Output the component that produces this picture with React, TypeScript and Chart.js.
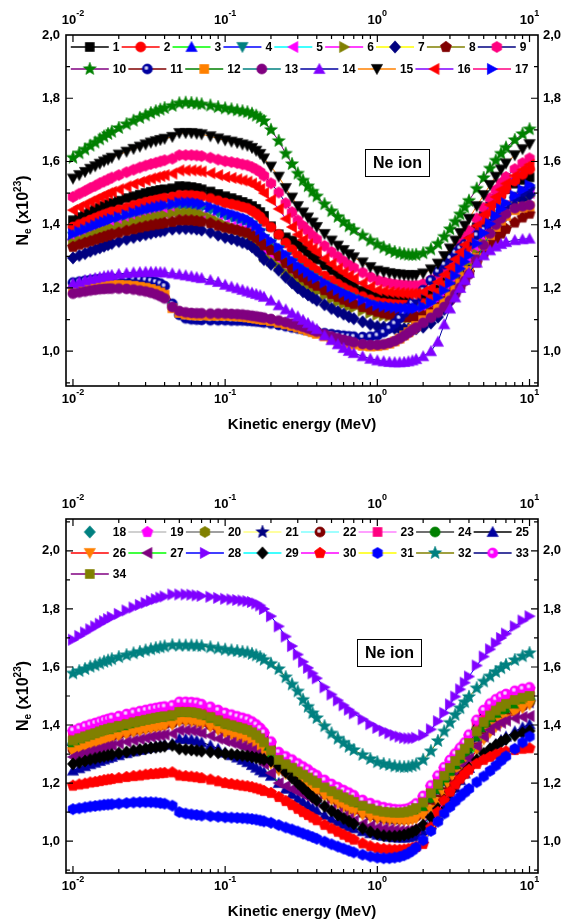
import React, { useEffect, useRef } from 'react';
import { Chart, registerables } from 'chart.js';

Chart.register(...registerables);

const FONT = "'Liberation Sans', Arial, Helvetica, sans-serif";

// Kinetic energy grid (MeV)
const ENERGY = [0.010,0.011,0.012,0.013,0.014,0.015,0.016,0.017,0.018,0.020,0.0225,0.025,0.0275,0.030,0.0325,0.035,0.0375,0.040,0.045,0.050,0.055,0.060,0.065,0.070,0.080,0.090,0.100,0.110,0.120,0.130,0.140,0.150,0.160,0.170,0.180,0.200,0.225,0.250,0.275,0.300,0.325,0.350,0.375,0.400,0.450,0.500,0.550,0.600,0.650,0.700,0.800,0.900,1.000,1.100,1.200,1.300,1.400,1.500,1.600,1.700,1.800,2.000,2.250,2.500,2.750,3.000,3.250,3.500,3.750,4.000,4.500,5.000,5.500,6.000,6.500,7.000,8.000,9.000,10.000];

// ---- upper panel series (Ne x10^23) ----
const S1 = [1.414,1.424,1.433,1.441,1.448,1.454,1.460,1.465,1.469,1.476,1.484,1.490,1.495,1.500,1.504,1.507,1.510,1.512,1.515,
1.522,1.521,1.519,1.516,1.512,1.505,1.497,1.490,1.484,1.478,1.472,1.466,1.459,1.450,1.440,1.428,
1.395,1.370,1.360,1.350,1.338,1.325,1.313,1.300,1.290,1.272,1.256,1.241,1.228,1.216,1.206,1.192,1.182,1.175,
1.170,1.166,1.163,1.161,1.160,1.159,1.159,
1.160,1.165,1.178,1.196,1.220,1.246,1.273,1.300,1.326,1.350,1.392,1.428,1.458,1.481,1.499,1.513,1.530,1.542,1.550];
const S2 = [1.393,1.401,1.408,1.415,1.421,1.427,1.432,1.436,1.441,1.447,1.454,1.461,1.466,1.471,1.475,1.478,1.481,1.484,1.488,
1.493,1.493,1.493,1.491,1.489,1.483,1.476,1.469,1.465,1.461,1.456,1.452,1.444,1.435,1.425,1.410,
1.392,1.369,1.342,1.321,1.301,1.287,1.275,1.264,1.254,1.238,1.224,1.212,1.201,1.192,1.185,1.173,1.163,1.155,
1.152,1.150,1.148,1.147,1.146,1.145,1.145,
1.146,1.151,1.164,1.184,1.208,1.234,1.259,1.284,1.308,1.331,1.372,1.409,1.441,1.468,1.492,1.512,1.538,1.559,1.575];
const S3 = [1.367,1.375,1.382,1.389,1.395,1.401,1.406,1.410,1.415,1.421,1.428,1.435,1.440,1.445,1.449,1.452,1.455,1.458,1.462,
1.467,1.467,1.467,1.465,1.462,1.454,1.445,1.436,1.431,1.425,1.419,1.414,1.404,1.392,1.379,1.360,
1.344,1.324,1.302,1.283,1.266,1.254,1.244,1.234,1.226,1.212,1.199,1.189,1.180,1.172,1.166,1.156,1.147,1.140,
1.137,1.135,1.133,1.132,1.131,1.130,1.130,
1.131,1.136,1.147,1.164,1.185,1.208,1.231,1.253,1.274,1.294,1.331,1.363,1.391,1.415,1.437,1.455,1.478,1.496,1.510];
const S4 = [1.362,1.370,1.377,1.384,1.389,1.395,1.400,1.404,1.409,1.415,1.422,1.428,1.433,1.438,1.442,1.445,1.448,1.451,1.455,
1.460,1.460,1.460,1.458,1.455,1.447,1.438,1.430,1.424,1.419,1.413,1.408,1.398,1.387,1.374,1.355,
1.339,1.320,1.298,1.279,1.263,1.250,1.240,1.231,1.223,1.209,1.196,1.186,1.177,1.170,1.164,1.154,1.145,1.138,
1.135,1.133,1.131,1.130,1.129,1.128,1.128,
1.129,1.134,1.145,1.162,1.183,1.206,1.228,1.250,1.271,1.291,1.327,1.359,1.387,1.411,1.432,1.450,1.473,1.491,1.505];
const S5 = [1.351,1.359,1.365,1.372,1.377,1.383,1.387,1.392,1.396,1.402,1.408,1.414,1.419,1.424,1.428,1.431,1.434,1.436,1.440,
1.432,1.432,1.432,1.430,1.426,1.419,1.408,1.400,1.394,1.388,1.382,1.376,1.366,1.354,1.340,1.320,
1.306,1.289,1.270,1.254,1.239,1.228,1.220,1.211,1.204,1.192,1.181,1.172,1.165,1.158,1.152,1.144,1.136,1.130,
1.127,1.125,1.123,1.122,1.121,1.120,1.120,
1.121,1.126,1.137,1.154,1.175,1.198,1.221,1.243,1.264,1.284,1.321,1.353,1.381,1.405,1.427,1.445,1.468,1.486,1.500];
const S6 = [1.345,1.353,1.359,1.366,1.371,1.377,1.382,1.386,1.390,1.397,1.403,1.409,1.414,1.419,1.422,1.426,1.428,1.431,1.435,
1.440,1.440,1.440,1.437,1.433,1.423,1.411,1.399,1.392,1.385,1.377,1.370,1.357,1.342,1.325,1.300,
1.287,1.270,1.251,1.235,1.221,1.211,1.202,1.194,1.187,1.175,1.165,1.156,1.149,1.142,1.137,1.128,1.121,1.115,
1.112,1.110,1.108,1.107,1.106,1.105,1.105,
1.106,1.111,1.122,1.140,1.161,1.184,1.207,1.230,1.251,1.271,1.308,1.341,1.370,1.394,1.416,1.434,1.457,1.475,1.490];
const S7 = [1.295,1.303,1.309,1.316,1.322,1.327,1.332,1.337,1.341,1.347,1.354,1.360,1.365,1.369,1.373,1.377,1.379,1.382,1.386,
1.388,1.388,1.388,1.386,1.383,1.376,1.367,1.360,1.355,1.350,1.344,1.339,1.330,1.319,1.308,1.290,
1.275,1.256,1.234,1.216,1.200,1.188,1.178,1.169,1.161,1.147,1.135,1.125,1.117,1.109,1.103,1.093,1.085,1.078,
1.076,1.074,1.072,1.071,1.071,1.070,1.070,
1.071,1.076,1.089,1.108,1.132,1.158,1.183,1.208,1.231,1.254,1.294,1.331,1.362,1.389,1.413,1.433,1.459,1.479,1.495];
const S8 = [1.330,1.337,1.343,1.348,1.353,1.358,1.362,1.366,1.370,1.375,1.381,1.386,1.391,1.395,1.398,1.401,1.403,1.406,1.409,
1.414,1.414,1.414,1.412,1.410,1.405,1.397,1.391,1.387,1.383,1.378,1.375,1.367,1.359,1.349,1.335,
1.320,1.301,1.279,1.262,1.246,1.234,1.224,1.215,1.207,1.193,1.181,1.172,1.163,1.156,1.150,1.140,1.131,1.125,
1.120,1.116,1.113,1.111,1.109,1.108,1.108,
1.109,1.113,1.123,1.137,1.156,1.175,1.195,1.214,1.232,1.249,1.281,1.308,1.333,1.354,1.372,1.387,1.407,1.423,1.435];
const S9 = [1.488,1.498,1.507,1.516,1.523,1.531,1.537,1.543,1.549,1.557,1.566,1.574,1.581,1.587,1.592,1.596,1.600,1.604,1.609,
1.620,1.620,1.620,1.619,1.617,1.612,1.606,1.601,1.598,1.595,1.591,1.588,1.582,1.575,1.567,1.555,
1.531,1.502,1.468,1.440,1.414,1.396,1.381,1.366,1.354,1.333,1.314,1.299,1.285,1.273,1.264,1.249,1.235,1.225,
1.220,1.215,1.212,1.210,1.209,1.208,1.207,
1.208,1.213,1.225,1.243,1.266,1.290,1.314,1.338,1.360,1.381,1.420,1.454,1.484,1.510,1.532,1.551,1.576,1.595,1.610];
const S10 = [1.612,1.626,1.638,1.650,1.660,1.670,1.679,1.687,1.694,1.706,1.718,1.729,1.738,1.746,1.753,1.759,1.764,1.769,1.776,
1.784,1.786,1.785,1.783,1.781,1.777,1.772,1.768,1.765,1.762,1.759,1.756,1.751,1.745,1.738,1.728,
1.700,1.665,1.625,1.592,1.562,1.540,1.522,1.505,1.490,1.465,1.443,1.425,1.409,1.395,1.384,1.366,1.350,1.338,
1.328,1.320,1.314,1.310,1.307,1.305,1.304,
1.305,1.310,1.322,1.340,1.362,1.386,1.410,1.433,1.455,1.476,1.514,1.548,1.578,1.603,1.625,1.644,1.668,1.687,1.702];
const S11 = [1.217,1.220,1.223,1.225,1.227,1.228,1.229,1.230,1.230,1.231,1.231,1.230,1.228,1.226,1.223,1.219,1.214,1.206,1.150,
1.115,1.104,1.101,1.100,1.099,1.098,1.098,1.098,1.097,1.097,1.097,1.096,1.095,1.094,1.093,1.091,
1.088,1.083,1.079,1.075,1.072,1.069,1.066,1.063,1.061,1.057,1.054,1.051,1.049,1.047,1.046,1.045,1.046,1.050,
1.060,1.073,1.088,1.105,1.122,1.138,1.153,
1.167,1.193,1.224,1.252,1.275,1.295,1.312,1.326,1.338,1.349,1.367,1.384,1.403,1.423,1.443,1.461,1.487,1.505,1.518];
const S12 = [1.194,1.198,1.201,1.204,1.206,1.208,1.209,1.210,1.210,1.210,1.209,1.207,1.204,1.201,1.197,1.192,1.186,1.179,1.136,
1.121,1.116,1.114,1.113,1.113,1.112,1.112,1.112,1.111,1.110,1.109,1.107,1.105,1.103,1.101,1.099,
1.095,1.090,1.085,1.080,1.075,1.070,1.065,1.060,1.055,1.047,1.040,1.034,1.029,1.025,1.021,1.017,1.015,1.016,
1.019,1.024,1.031,1.040,1.050,1.060,1.070,
1.080,1.098,1.117,1.135,1.154,1.174,1.194,1.214,1.234,1.254,1.296,1.334,1.367,1.393,1.413,1.428,1.446,1.454,1.458];
const S13 = [1.182,1.186,1.189,1.192,1.194,1.196,1.197,1.198,1.198,1.198,1.197,1.195,1.192,1.189,1.185,1.180,1.174,1.167,1.140,
1.127,1.123,1.121,1.120,1.120,1.119,1.119,1.119,1.118,1.117,1.116,1.114,1.112,1.110,1.108,1.106,
1.102,1.097,1.092,1.087,1.082,1.077,1.072,1.067,1.062,1.054,1.047,1.041,1.036,1.032,1.028,1.023,1.020,1.020,
1.022,1.026,1.032,1.040,1.049,1.058,1.067,
1.075,1.090,1.106,1.122,1.140,1.160,1.180,1.201,1.222,1.243,1.290,1.335,1.372,1.400,1.420,1.435,1.452,1.458,1.462];
const S14 = [1.214,1.219,1.224,1.228,1.231,1.234,1.237,1.239,1.241,1.244,1.247,1.249,1.250,1.251,1.251,1.251,1.250,1.249,1.246,
1.243,1.240,1.237,1.234,1.231,1.225,1.219,1.210,1.204,1.199,1.194,1.189,1.185,1.181,1.177,1.172,
1.160,1.145,1.132,1.120,1.110,1.099,1.089,1.079,1.070,1.050,1.035,1.022,1.010,1.001,0.994,0.984,0.976,0.971,
0.968,0.966,0.965,0.965,0.966,0.968,0.971,
0.975,0.984,1.000,1.030,1.085,1.135,1.170,1.200,1.225,1.248,1.280,1.303,1.319,1.331,1.339,1.345,1.351,1.354,1.356];
const S15 = [1.546,1.557,1.567,1.577,1.585,1.593,1.600,1.606,1.612,1.622,1.631,1.640,1.647,1.654,1.660,1.664,1.668,1.672,1.678,
1.690,1.690,1.690,1.688,1.686,1.680,1.673,1.667,1.663,1.659,1.654,1.650,1.643,1.634,1.624,1.610,
1.584,1.552,1.516,1.486,1.459,1.439,1.423,1.407,1.393,1.371,1.350,1.334,1.320,1.307,1.297,1.281,1.266,1.255,
1.251,1.247,1.244,1.243,1.241,1.240,1.240,
1.241,1.246,1.259,1.277,1.301,1.325,1.350,1.374,1.397,1.419,1.459,1.494,1.526,1.552,1.575,1.594,1.620,1.639,1.655];
const S16 = [1.446,1.456,1.464,1.473,1.480,1.487,1.493,1.499,1.504,1.512,1.521,1.529,1.535,1.541,1.546,1.550,1.554,1.557,1.562,
1.572,1.572,1.572,1.571,1.568,1.563,1.557,1.551,1.548,1.544,1.540,1.536,1.530,1.522,1.513,1.500,
1.478,1.450,1.419,1.393,1.369,1.352,1.338,1.324,1.313,1.293,1.276,1.261,1.249,1.238,1.229,1.215,1.203,1.193,
1.190,1.187,1.185,1.184,1.183,1.182,1.182,
1.183,1.188,1.200,1.219,1.242,1.266,1.291,1.314,1.337,1.358,1.397,1.432,1.463,1.488,1.511,1.530,1.555,1.574,1.590];
const S17 = [1.370,1.378,1.385,1.392,1.398,1.404,1.409,1.413,1.418,1.424,1.431,1.438,1.443,1.448,1.452,1.455,1.458,1.461,1.465,
1.470,1.470,1.470,1.468,1.465,1.457,1.448,1.440,1.434,1.429,1.423,1.418,1.408,1.397,1.384,1.365,
1.349,1.329,1.307,1.288,1.271,1.259,1.249,1.239,1.231,1.217,1.204,1.194,1.185,1.177,1.171,1.161,1.152,1.145,
1.142,1.140,1.138,1.137,1.136,1.135,1.135,
1.136,1.141,1.153,1.170,1.192,1.215,1.239,1.261,1.283,1.303,1.341,1.374,1.403,1.428,1.450,1.468,1.492,1.510,1.525];

// ---- lower panel series ----
const S18 = [1.337,1.344,1.351,1.357,1.362,1.368,1.373,1.377,1.381,1.387,1.393,1.399,1.404,1.408,1.412,1.415,1.418,1.420,1.424,
1.435,1.435,1.434,1.431,1.426,1.417,1.406,1.395,1.389,1.383,1.378,1.373,1.365,1.355,1.344,1.330,
1.302,1.270,1.255,1.243,1.230,1.219,1.209,1.199,1.190,1.175,1.162,1.151,1.141,1.133,1.125,1.112,1.102,1.095,
1.091,1.089,1.088,1.088,1.089,1.092,1.097,
1.104,1.123,1.155,1.186,1.215,1.242,1.266,1.287,1.308,1.328,1.368,1.400,1.423,1.440,1.453,1.463,1.476,1.484,1.490];
const S19 = [1.376,1.383,1.390,1.396,1.401,1.406,1.411,1.415,1.419,1.425,1.432,1.437,1.442,1.446,1.450,1.453,1.456,1.458,1.462,
1.474,1.474,1.473,1.471,1.466,1.457,1.446,1.436,1.430,1.424,1.419,1.414,1.406,1.396,1.384,1.369,
1.337,1.301,1.286,1.275,1.262,1.251,1.241,1.229,1.221,1.205,1.191,1.180,1.170,1.161,1.152,1.136,1.125,1.117,
1.111,1.107,1.104,1.103,1.104,1.107,1.114,
1.124,1.150,1.186,1.220,1.249,1.274,1.296,1.316,1.334,1.361,1.412,1.446,1.468,1.483,1.493,1.501,1.512,1.519,1.524];
const S20 = [1.351,1.358,1.365,1.371,1.376,1.382,1.387,1.391,1.395,1.401,1.407,1.413,1.418,1.422,1.426,1.429,1.432,1.434,1.438,
1.449,1.449,1.448,1.445,1.440,1.431,1.420,1.409,1.403,1.397,1.392,1.387,1.379,1.369,1.358,1.344,
1.316,1.284,1.269,1.257,1.244,1.233,1.223,1.213,1.204,1.189,1.176,1.165,1.155,1.147,1.139,1.126,1.116,1.109,
1.105,1.103,1.102,1.102,1.103,1.106,1.111,
1.118,1.137,1.169,1.200,1.229,1.256,1.280,1.301,1.322,1.342,1.382,1.414,1.437,1.454,1.467,1.477,1.490,1.498,1.504];
const S21 = [1.325,1.332,1.339,1.345,1.350,1.356,1.361,1.365,1.369,1.375,1.381,1.387,1.392,1.396,1.400,1.403,1.406,1.408,1.412,
1.423,1.423,1.422,1.419,1.414,1.405,1.394,1.383,1.377,1.371,1.366,1.361,1.353,1.343,1.332,1.318,
1.290,1.258,1.243,1.231,1.218,1.207,1.197,1.187,1.178,1.163,1.150,1.139,1.129,1.121,1.113,1.100,1.090,1.083,
1.079,1.077,1.076,1.076,1.077,1.080,1.085,
1.092,1.111,1.143,1.174,1.203,1.230,1.254,1.275,1.296,1.316,1.356,1.388,1.411,1.428,1.441,1.451,1.464,1.472,1.478];
const S22 = [1.315,1.323,1.330,1.336,1.342,1.348,1.353,1.357,1.361,1.368,1.374,1.381,1.386,1.390,1.394,1.397,1.400,1.403,1.407,
1.419,1.419,1.418,1.415,1.409,1.400,1.389,1.379,1.373,1.367,1.362,1.357,1.348,1.336,1.321,1.303,
1.274,1.251,1.239,1.228,1.217,1.207,1.197,1.188,1.179,1.163,1.149,1.137,1.126,1.116,1.108,1.098,1.090,1.084,
1.081,1.079,1.078,1.077,1.077,1.078,1.081,
1.085,1.095,1.116,1.142,1.168,1.193,1.216,1.238,1.258,1.278,1.323,1.358,1.382,1.401,1.416,1.428,1.448,1.465,1.478];
const S23 = [1.366,1.373,1.380,1.386,1.391,1.396,1.401,1.405,1.409,1.415,1.422,1.427,1.432,1.436,1.440,1.443,1.446,1.448,1.452,
1.464,1.464,1.463,1.461,1.456,1.447,1.436,1.426,1.420,1.414,1.409,1.404,1.396,1.386,1.374,1.359,
1.327,1.291,1.276,1.265,1.252,1.241,1.231,1.219,1.211,1.195,1.181,1.170,1.160,1.151,1.142,1.126,1.115,1.107,
1.101,1.097,1.094,1.093,1.094,1.097,1.104,
1.114,1.140,1.176,1.210,1.239,1.264,1.286,1.306,1.324,1.351,1.402,1.436,1.458,1.473,1.483,1.491,1.502,1.509,1.514];
const S24 = [1.331,1.338,1.345,1.351,1.356,1.362,1.367,1.371,1.375,1.381,1.387,1.393,1.398,1.402,1.406,1.409,1.412,1.414,1.418,
1.429,1.429,1.428,1.425,1.420,1.411,1.400,1.389,1.383,1.377,1.372,1.367,1.359,1.349,1.338,1.324,
1.296,1.264,1.249,1.237,1.224,1.213,1.203,1.193,1.184,1.169,1.156,1.145,1.135,1.127,1.119,1.106,1.096,1.089,
1.085,1.083,1.082,1.082,1.083,1.086,1.091,
1.098,1.117,1.149,1.180,1.209,1.236,1.260,1.281,1.302,1.322,1.362,1.394,1.417,1.434,1.447,1.457,1.470,1.478,1.484];
const S25 = [1.243,1.251,1.258,1.265,1.270,1.276,1.281,1.286,1.290,1.296,1.303,1.309,1.314,1.319,1.323,1.326,1.329,1.332,1.336,
1.353,1.352,1.350,1.346,1.340,1.330,1.318,1.305,1.296,1.288,1.280,1.272,1.262,1.253,1.244,1.237,
1.225,1.200,1.180,1.162,1.147,1.135,1.124,1.114,1.105,1.090,1.077,1.067,1.058,1.050,1.044,1.034,1.027,1.022,
1.018,1.015,1.013,1.012,1.012,1.013,1.016,
1.020,1.033,1.058,1.088,1.120,1.152,1.183,1.210,1.233,1.252,1.280,1.300,1.318,1.334,1.348,1.360,1.378,1.392,1.402];
const S26 = [1.307,1.315,1.322,1.328,1.334,1.340,1.345,1.349,1.353,1.360,1.366,1.373,1.378,1.382,1.386,1.389,1.392,1.395,1.399,
1.411,1.411,1.410,1.407,1.401,1.392,1.381,1.371,1.365,1.359,1.354,1.349,1.340,1.328,1.313,1.295,
1.266,1.243,1.231,1.220,1.209,1.199,1.189,1.180,1.171,1.155,1.141,1.129,1.118,1.108,1.100,1.090,1.082,1.076,
1.073,1.071,1.070,1.069,1.069,1.070,1.073,
1.077,1.087,1.108,1.134,1.160,1.185,1.208,1.230,1.250,1.270,1.315,1.350,1.374,1.393,1.408,1.420,1.440,1.457,1.470];
const S27 = [1.290,1.297,1.303,1.309,1.313,1.318,1.323,1.327,1.330,1.336,1.342,1.347,1.351,1.355,1.359,1.362,1.364,1.367,1.370,
1.382,1.382,1.381,1.378,1.372,1.363,1.353,1.345,1.339,1.333,1.327,1.321,1.312,1.299,1.284,1.265,
1.235,1.200,1.190,1.180,1.170,1.161,1.152,1.143,1.134,1.119,1.106,1.095,1.085,1.077,1.070,1.060,1.052,1.047,
1.043,1.040,1.038,1.036,1.035,1.036,1.039,
1.044,1.058,1.083,1.112,1.142,1.172,1.202,1.232,1.260,1.285,1.327,1.360,1.383,1.398,1.408,1.415,1.423,1.428,1.431];
const S28 = [1.694,1.707,1.719,1.730,1.740,1.749,1.758,1.765,1.772,1.783,1.795,1.805,1.814,1.821,1.828,1.834,1.839,1.843,1.850,
1.850,1.850,1.849,1.847,1.845,1.842,1.838,1.835,1.833,1.831,1.829,1.827,1.824,1.819,1.812,1.800,
1.775,1.740,1.705,1.672,1.643,1.618,1.597,1.578,1.561,1.530,1.505,1.485,1.468,1.453,1.440,1.420,1.403,1.390,
1.380,1.372,1.365,1.360,1.356,1.354,1.354,
1.356,1.365,1.385,1.413,1.442,1.471,1.498,1.523,1.546,1.567,1.605,1.636,1.661,1.682,1.700,1.715,1.740,1.760,1.775];
const S29 = [1.266,1.271,1.276,1.281,1.285,1.289,1.292,1.295,1.298,1.303,1.307,1.312,1.315,1.318,1.321,1.323,1.325,1.327,1.330,
1.318,1.316,1.314,1.312,1.310,1.307,1.304,1.301,1.299,1.297,1.295,1.293,1.290,1.287,1.284,1.281,
1.276,1.258,1.238,1.218,1.199,1.182,1.166,1.152,1.140,1.120,1.104,1.090,1.078,1.068,1.059,1.044,1.032,1.024,
1.019,1.017,1.017,1.018,1.021,1.025,1.031,
1.038,1.055,1.082,1.112,1.142,1.170,1.195,1.217,1.236,1.252,1.280,1.302,1.318,1.331,1.342,1.351,1.364,1.373,1.380];
const S30 = [1.191,1.195,1.198,1.202,1.204,1.207,1.210,1.212,1.214,1.217,1.221,1.224,1.226,1.229,1.231,1.232,1.234,1.235,1.237,
1.226,1.224,1.222,1.220,1.217,1.212,1.206,1.200,1.197,1.194,1.191,1.189,1.186,1.182,1.178,1.173,
1.166,1.152,1.138,1.124,1.111,1.100,1.090,1.081,1.072,1.056,1.043,1.032,1.022,1.013,1.005,0.992,0.982,0.976,
0.973,0.971,0.970,0.970,0.971,0.973,0.976,
0.980,0.990,1.047,1.100,1.140,1.170,1.195,1.215,1.232,1.246,1.266,1.280,1.290,1.298,1.304,1.309,1.314,1.318,1.320];
const S31 = [1.110,1.113,1.116,1.119,1.121,1.123,1.125,1.126,1.127,1.129,1.131,1.133,1.134,1.134,1.134,1.133,1.131,1.129,1.122,
1.100,1.095,1.092,1.090,1.088,1.086,1.084,1.082,1.081,1.080,1.079,1.078,1.076,1.074,1.071,1.068,
1.063,1.055,1.047,1.040,1.033,1.026,1.020,1.014,1.008,0.998,0.989,0.981,0.974,0.967,0.961,0.953,0.947,0.943,
0.941,0.941,0.943,0.946,0.951,0.958,0.967,
0.978,1.003,1.035,1.067,1.095,1.118,1.137,1.153,1.167,1.180,1.203,1.223,1.242,1.260,1.277,1.292,1.318,1.340,1.360];
const S32 = [1.578,1.586,1.593,1.601,1.606,1.612,1.618,1.622,1.627,1.634,1.641,1.647,1.652,1.657,1.661,1.665,1.668,1.671,1.675,
1.674,1.674,1.674,1.673,1.672,1.668,1.664,1.660,1.657,1.655,1.652,1.650,1.645,1.640,1.634,1.625,
1.611,1.593,1.565,1.540,1.516,1.487,1.463,1.441,1.424,1.396,1.371,1.353,1.339,1.325,1.314,1.297,1.283,1.272,
1.266,1.262,1.258,1.256,1.255,1.256,1.259,
1.264,1.280,1.310,1.345,1.378,1.408,1.435,1.458,1.479,1.497,1.527,1.550,1.568,1.583,1.596,1.607,1.624,1.637,1.648];
const S33 = [1.382,1.389,1.396,1.402,1.407,1.412,1.417,1.421,1.425,1.431,1.438,1.443,1.448,1.452,1.456,1.459,1.462,1.464,1.468,
1.480,1.480,1.479,1.477,1.472,1.463,1.452,1.442,1.436,1.430,1.425,1.420,1.412,1.402,1.390,1.375,
1.343,1.307,1.292,1.281,1.268,1.257,1.247,1.235,1.227,1.211,1.197,1.186,1.176,1.167,1.158,1.142,1.131,1.123,
1.117,1.113,1.110,1.109,1.110,1.113,1.120,
1.130,1.156,1.192,1.226,1.255,1.280,1.302,1.322,1.340,1.367,1.418,1.452,1.474,1.489,1.499,1.507,1.518,1.525,1.530];
const S34 = [1.347,1.354,1.361,1.367,1.372,1.378,1.383,1.387,1.391,1.397,1.403,1.409,1.414,1.418,1.422,1.425,1.428,1.430,1.434,
1.445,1.445,1.444,1.441,1.436,1.427,1.416,1.405,1.399,1.393,1.388,1.383,1.375,1.365,1.354,1.340,
1.312,1.280,1.265,1.253,1.240,1.229,1.219,1.209,1.200,1.185,1.172,1.161,1.151,1.143,1.135,1.122,1.112,1.105,
1.101,1.099,1.098,1.098,1.099,1.102,1.107,
1.114,1.133,1.165,1.196,1.225,1.252,1.276,1.297,1.318,1.338,1.378,1.410,1.433,1.450,1.463,1.473,1.486,1.494,1.500];

const TOP_SERIES = [S1,S2,S3,S4,S5,S6,S7,S8,S9,S10,S11,S12,S13,S14,S15,S16,S17];
const BOTTOM_SERIES = [S18,S19,S20,S21,S22,S23,S24,S25,S26,S27,S28,S29,S30,S31,S32,S33,S34];

const SERIES_NAMES = ['1','2','3','4','5','6','7','8','9','10','11','12','13','14','15','16','17',
  '18','19','20','21','22','23','24','25','26','27','28','29','30','31','32','33','34'];
const MARKER_SHAPES = ['square','circle','triUp','triDown','triLeft','triRight','diamond','pentagon','hexagon','star','sphere'];
const MARKER_COLORS = ['#000000','#FF0000','#0000FF','#008080','#FF00FF','#808000','#000080','#800000','#FF0080','#008000','#0000A0','#FF8000','#800080','#8000FF','#000000','#FF0000','#0000FF',
  '#008080','#FF00FF','#808000','#000080','#800000','#FF0080','#008000','#0000A0','#FF8000','#800080','#8000FF','#000000','#FF0000','#0000FF','#008080','#FF00FF','#808000'];
const LINE_COLORS = ['#000000','#FF0000','#00FF00','#0000FF','#00FFFF','#FF00FF','#FFFF00','#808000','#000080','#800080','#800000','#008000','#008080','#0000A0','#FF8000','#8000FF','#FF0080',
  '#FFFFFF','#C0C0C0','#808080','#FFFF80','#80FFFF','#FF80FF','#404040','#000000','#FF0000','#00FF00','#0000FF','#00FFFF','#FF00FF','#FFFF00','#808000','#000080','#800080'];

const X_MAJOR = [0.01, 0.1, 1, 10];
const X_MAJOR_EXP = ['-2', '-1', '0', '1'];
const X_MINOR = [0.02,0.03,0.04,0.05,0.06,0.07,0.08,0.09,0.2,0.3,0.4,0.5,0.6,0.7,0.8,0.9,2,3,4,5,6,7,8,9];
const Y_MAJOR = [1.0, 1.2, 1.4, 1.6, 1.8, 2.0];
const Y_MINOR = [0.9, 1.1, 1.3, 1.5, 1.7, 1.9, 2.1];
const X_TITLE = 'Kinetic energy (MeV)';
const ANNOTATION = 'Ne ion';

function makeMarker(shape: string, color: string): HTMLCanvasElement {
  const S = 18;
  const c = document.createElement('canvas');
  c.width = S; c.height = S;
  const g = c.getContext('2d') as CanvasRenderingContext2D;
  const cx = S / 2, cy = S / 2;
  g.fillStyle = color; g.strokeStyle = color; g.lineWidth = 0.6;
  g.beginPath();
  const poly = (pts: number[][]) => {
    g.moveTo(cx + pts[0][0], cy + pts[0][1]);
    for (let i = 1; i < pts.length; i++) g.lineTo(cx + pts[i][0], cy + pts[i][1]);
    g.closePath();
  };
  const regular = (n: number, r: number, rot: number) => {
    const pts: number[][] = [];
    for (let i = 0; i < n; i++) { const a = rot + (i * 2 * Math.PI) / n; pts.push([r * Math.cos(a), r * Math.sin(a)]); }
    poly(pts);
  };
  switch (shape) {
    case 'square': g.rect(cx - 4.5, cy - 4.5, 9, 9); break;
    case 'circle': g.arc(cx, cy, 5.1, 0, Math.PI * 2); break;
    case 'triUp': poly([[0, -5.6], [5.6, 4.6], [-5.6, 4.6]]); break;
    case 'triDown': poly([[0, 5.6], [5.6, -4.6], [-5.6, -4.6]]); break;
    case 'triLeft': poly([[-5.6, 0], [4.6, -5.6], [4.6, 5.6]]); break;
    case 'triRight': poly([[5.6, 0], [-4.6, -5.6], [-4.6, 5.6]]); break;
    case 'diamond': poly([[0, -6.2], [5.6, 0], [0, 6.2], [-5.6, 0]]); break;
    case 'pentagon': regular(5, 5.8, -Math.PI / 2); break;
    case 'hexagon': regular(6, 5.6, -Math.PI / 2); break;
    case 'star': {
      const pts: number[][] = [];
      for (let i = 0; i < 10; i++) { const a = -Math.PI / 2 + (i * Math.PI) / 5; const r = i % 2 === 0 ? 6.8 : 2.9; pts.push([r * Math.cos(a), r * Math.sin(a)]); }
      poly(pts); break;
    }
    case 'sphere': g.arc(cx, cy, 5.1, 0, Math.PI * 2); break;
  }
  g.fill(); g.stroke();
  if (shape === 'sphere') {
    const hx = cx - 1, hy = cy - 1;
    const gr = g.createRadialGradient(hx, hy, 0, hx, hy, 2.6);
    gr.addColorStop(0, 'rgba(255,255,255,1)');
    gr.addColorStop(0.5, 'rgba(235,235,255,0.75)');
    gr.addColorStop(1, 'rgba(255,255,255,0)');
    g.fillStyle = gr;
    g.beginPath(); g.arc(hx, hy, 2.6, 0, Math.PI * 2); g.fill();
  }
  return c;
}

function drawPow(ctx: CanvasRenderingContext2D, x: number, y: number, exp: string) {
  ctx.font = `bold 13px ${FONT}`;
  const w1 = ctx.measureText('10').width;
  ctx.font = `bold 9px ${FONT}`;
  const w2 = ctx.measureText(exp).width;
  const x0 = x - (w1 + w2) / 2;
  ctx.textAlign = 'left';
  ctx.textBaseline = 'middle';
  ctx.font = `bold 13px ${FONT}`;
  ctx.fillText('10', x0, y);
  ctx.font = `bold 9px ${FONT}`;
  ctx.fillText(exp, x0 + w1, y - 6);
}

function framePlugin(cfg: any) {
  return {
    id: 'frame',
    afterDraw(chart: any) {
      const ctx: CanvasRenderingContext2D = chart.ctx;
      const { left, right, top, bottom } = chart.chartArea;
      const xs = chart.scales.x, ys = chart.scales.y;
      ctx.save();
      ctx.strokeStyle = '#000'; ctx.fillStyle = '#000';
      ctx.lineWidth = 1.2;
      ctx.beginPath();
      const xt = (vals: number[], len: number) => vals.forEach((v) => {
        const p = xs.getPixelForValue(v);
        if (p < left + 0.5 || p > right - 0.5) return;
        ctx.moveTo(p, bottom); ctx.lineTo(p, bottom - len);
        ctx.moveTo(p, top); ctx.lineTo(p, top + len);
      });
      const yt = (vals: number[], len: number) => vals.forEach((v) => {
        const p = ys.getPixelForValue(v);
        if (p < top + 0.5 || p > bottom - 0.5) return;
        ctx.moveTo(left, p); ctx.lineTo(left + len, p);
        ctx.moveTo(right, p); ctx.lineTo(right - len, p);
      });
      xt(X_MAJOR, 7); xt(X_MINOR, 4); yt(Y_MAJOR, 7); yt(Y_MINOR, 4);
      ctx.stroke();
      ctx.lineWidth = 1.6;
      ctx.strokeRect(left, top, right - left, bottom - top);

      ctx.font = `bold 13px ${FONT}`;
      ctx.textBaseline = 'middle';
      Y_MAJOR.forEach((v) => {
        const p = ys.getPixelForValue(v);
        if (p < top - 1 || p > bottom + 1) return;
        const s = v.toFixed(1).replace('.', ',');
        ctx.textAlign = 'right'; ctx.fillText(s, left - 6, p);
        ctx.textAlign = 'left'; ctx.fillText(s, right + 5, p);
      });
      X_MAJOR.forEach((v, i) => {
        const p = xs.getPixelForValue(v);
        drawPow(ctx, p, bottom + 13, X_MAJOR_EXP[i]);
        drawPow(ctx, p, top - 15, X_MAJOR_EXP[i]);
      });
      ctx.font = `bold 15px ${FONT}`;
      ctx.textAlign = 'center'; ctx.textBaseline = 'middle';
      ctx.fillText(X_TITLE, (left + right) / 2, bottom + 39);

      ctx.save();
      ctx.translate(24, (top + bottom) / 2);
      ctx.rotate(-Math.PI / 2);
      const parts = [
        { t: 'N', f: 16, dy: 0 },
        { t: 'e', f: 10, dy: 4 },
        { t: ' (x10', f: 16, dy: 0 },
        { t: '23', f: 10, dy: -6 },
        { t: ')', f: 16, dy: 0 },
      ];
      let tw = 0;
      parts.forEach((pt) => { ctx.font = `bold ${pt.f}px ${FONT}`; tw += ctx.measureText(pt.t).width; });
      let tx = -tw / 2;
      ctx.textAlign = 'left'; ctx.textBaseline = 'middle';
      parts.forEach((pt) => {
        ctx.font = `bold ${pt.f}px ${FONT}`;
        ctx.fillText(pt.t, tx, pt.dy);
        tx += ctx.measureText(pt.t).width;
      });
      ctx.restore();

      ctx.lineWidth = 1;
      ctx.fillStyle = '#fff';
      ctx.fillRect(cfg.box.x, cfg.box.y, cfg.box.w, cfg.box.h);
      ctx.strokeStyle = '#000';
      ctx.strokeRect(cfg.box.x + 0.5, cfg.box.y + 0.5, cfg.box.w, cfg.box.h);
      ctx.fillStyle = '#000';
      ctx.font = `bold 16px ${FONT}`;
      ctx.textAlign = 'center'; ctx.textBaseline = 'middle';
      ctx.fillText(ANNOTATION, cfg.box.x + cfg.box.w / 2 + 0.5, cfg.box.y + cfg.box.h / 2 + 1);

      ctx.font = `bold 12px ${FONT}`;
      ctx.textAlign = 'left'; ctx.textBaseline = 'middle';
      cfg.legendRows.forEach((row: number[], r: number) => {
        let x0 = 70.8;
        const y = cfg.legendY[r];
        row.forEach((i) => {
          const ds = chart.data.datasets[i];
          ctx.strokeStyle = ds.borderColor;
          ctx.lineWidth = 1.4;
          ctx.beginPath(); ctx.moveTo(x0, y); ctx.lineTo(x0 + 38, y); ctx.stroke();
          const img = ds.pointStyle as HTMLCanvasElement;
          ctx.drawImage(img, x0 + 19 - img.width / 2, y - img.height / 2);
          ctx.fillStyle = '#000';
          ctx.fillText(ds.label, x0 + 42, y + 1);
          x0 = x0 + 42 + ctx.measureText(ds.label).width + 2.2;
        });
      });
      ctx.restore();
    },
  };
}

function buildConfig(cfg: any, markers: HTMLCanvasElement[]) {
  const datasets = cfg.series.map((vals: number[], i: number) => {
    const n = cfg.first + i;
    return {
      label: SERIES_NAMES[n],
      data: ENERGY.map((e, k) => ({ x: e, y: vals[k] })),
      showLine: true,
      borderColor: LINE_COLORS[n],
      borderWidth: 1,
      pointStyle: markers[n],
      pointRadius: 5,
      pointHoverRadius: 5,
      order: cfg.series.length - i,
    };
  });
  return {
    type: 'scatter',
    data: { datasets },
    options: {
      animation: false,
      responsive: false,
      events: [],
      layout: { padding: cfg.padding },
      plugins: { legend: { display: false }, tooltip: { enabled: false } },
      scales: {
        x: { type: 'logarithmic', min: 0.009, max: 11.37, display: false },
        y: { type: 'linear', min: cfg.yMin, max: cfg.yMax, display: false },
      },
    },
    plugins: [framePlugin(cfg)],
  };
}

export default function App() {
  const topRef = useRef<HTMLCanvasElement>(null);
  const botRef = useRef<HTMLCanvasElement>(null);
  useEffect(() => {
    const markers = MARKER_COLORS.map((c, n) => makeMarker(MARKER_SHAPES[n % 11], c));
    const topCfg = {
      series: TOP_SERIES, first: 0, yMin: 0.89, yMax: 2.0,
      padding: { left: 66, right: 28, top: 35, bottom: 74 },
      legendRows: [[0,1,2,3,4,5,6,7,8],[9,10,11,12,13,14,15,16]],
      legendY: [47, 69],
      box: { x: 365, y: 149, w: 64, h: 27 },
    };
    const botCfg = {
      series: BOTTOM_SERIES, first: 17, yMin: 0.89, yMax: 2.11,
      padding: { left: 66, right: 28, top: 59, bottom: 50 },
      legendRows: [[0,1,2,3,4,5,6,7],[8,9,10,11,12,13,14,15],[16]],
      legendY: [72, 93, 114],
      box: { x: 357, y: 179, w: 64, h: 27 },
    };
    const c1 = new Chart(topRef.current as HTMLCanvasElement, buildConfig(topCfg, markers) as any);
    const c2 = new Chart(botRef.current as HTMLCanvasElement, buildConfig(botCfg, markers) as any);
    return () => { c1.destroy(); c2.destroy(); };
  }, []);
  return (
    <div style={{ position: 'absolute', left: 0, top: 0, width: 566, height: 923, background: '#fff' }}>
      <canvas ref={topRef} width={566} height={460} style={{ position: 'absolute', left: 0, top: 0, width: 566, height: 460 }} />
      <canvas ref={botRef} width={566} height={463} style={{ position: 'absolute', left: 0, top: 460, width: 566, height: 463 }} />
    </div>
  );
}
